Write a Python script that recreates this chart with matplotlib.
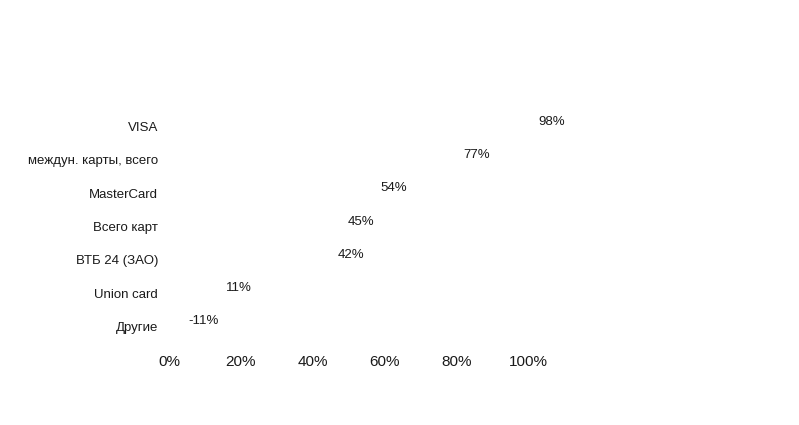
import matplotlib
matplotlib.use('Agg')
import matplotlib.pyplot as plt
import numpy as np

categories = ['VISA', 'междун. карты, всего', 'MasterCard', 'Всего карт',
              'ВТБ 24 (ЗАО)', 'Union card', 'Другие']
values = [98, 77, 54, 45, 42, 11, -11]
tick_vals = [0, 20, 40, 60, 80, 100]

plt.rcParams['font.family'] = ['Liberation Sans', 'DejaVu Sans']

fig = plt.figure(figsize=(7.99, 4.25), dpi=100)
fig.patch.set_facecolor('white')
ax = fig.add_axes([0.2115, 0.193, 0.45, 0.548])

y = np.arange(len(categories))[::-1]
# bars are drawn white on white, as in the original
ax.barh(y, values, height=0.6, color='white')

for yi, v in zip(y, values):
    xpos = v + 4.8 if v >= 0 else 5.5
    ax.text(xpos, yi + 0.15, f'{v}%', ha='left', va='center',
            fontsize=9.5, color='#1A1A1A')

ax.set_xlim(0, 100)
ax.set_ylim(-0.5, len(categories) - 0.5)
ax.set_xticks(tick_vals)
ax.set_xticklabels([f'{t}%' for t in tick_vals], fontsize=11, color='#1A1A1A')
ax.set_yticks(y)
ax.set_yticklabels(categories, fontsize=9.5, color='#1A1A1A')
ax.tick_params(axis='x', length=0, pad=9)
ax.tick_params(axis='y', length=0, pad=8)
for s in ax.spines.values():
    s.set_visible(False)

fig.savefig('out.png', dpi=100, facecolor='white')
